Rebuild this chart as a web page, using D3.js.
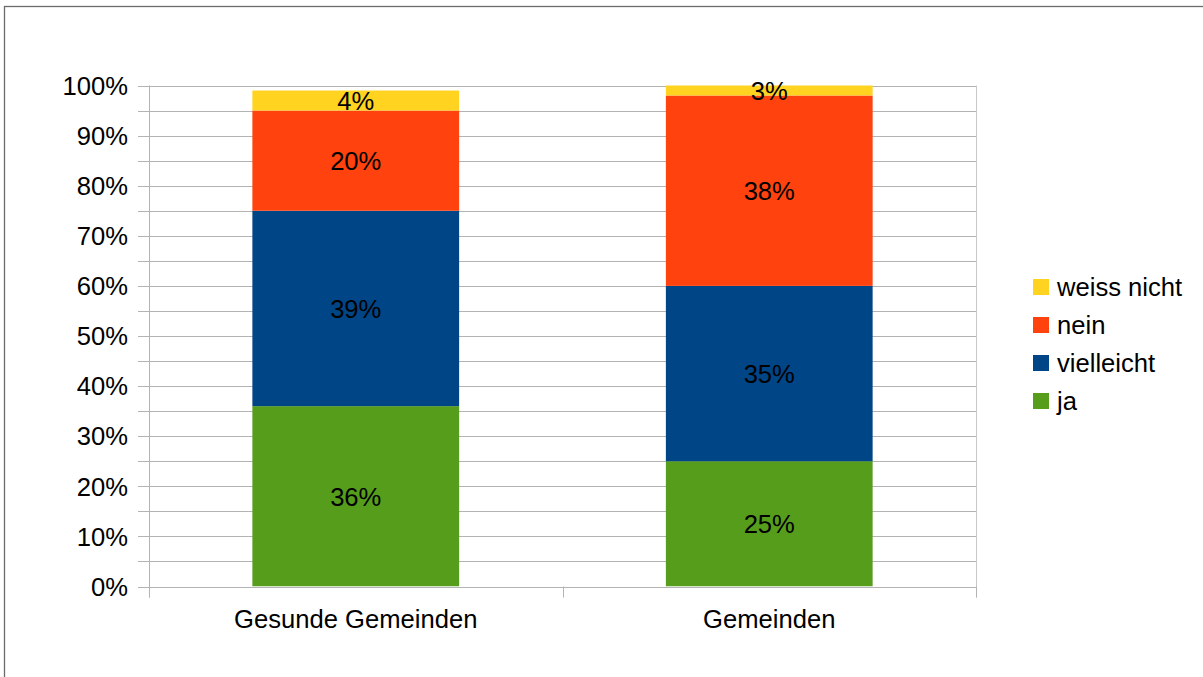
<!DOCTYPE html>
<html>
<head>
<meta charset="utf-8">
<script src="https://cdn.jsdelivr.net/npm/d3@7/dist/d3.min.js"></script>
<style>
  html, body { margin: 0; padding: 0; background: #fff; }
  svg { display: block; font-family: "Liberation Sans", Arial, sans-serif; }
</style>
</head>
<body>
<svg id="chart" width="1203" height="677"></svg>
<script>
// Survey answers per group (share of respondents)
const categories = ["Gesunde Gemeinden", "Gemeinden"];
const seriesNames = ["ja", "vielleicht", "nein", "weiss nicht"];
const ja = [0.36, 0.25];
const vielleicht = [0.39, 0.35];
const nein = [0.20, 0.38];
const weissNicht = [0.04, 0.03];
const seriesColors = ["#579d1c", "#004586", "#ff420e", "#ffd320"];
const yTicks = [0, 0.1, 0.2, 0.3, 0.4, 0.5, 0.6, 0.7, 0.8, 0.9, 1.0];
const yGrid = d3.range(0, 1.0001, 0.05);

(function () {
  const svg = d3.select("#chart");
  const plotLeft = 149, plotRight = 976, plotTop = 85.5, plotBottom = 586.5;
  const fontSize = 25.6;

  // outer frame
  svg.append("rect")
    .attr("x", 4.5).attr("y", 6.5)
    .attr("width", 1210).attr("height", 700)
    .attr("fill", "none").attr("stroke", "#6b6b6b").attr("stroke-width", 1.3);

  const x = d3.scaleBand().domain(categories).range([plotLeft, plotRight])
    .paddingInner(0.5).paddingOuter(0.25);
  const y = d3.scaleLinear().domain([0, 1]).range([plotBottom, plotTop]);

  // gridlines
  svg.append("g").selectAll("line").data(yGrid).join("line")
    .attr("x1", plotLeft - 11).attr("x2", plotRight)
    .attr("y1", d => Math.round(y(d)) + 0.5).attr("y2", d => Math.round(y(d)) + 0.5)
    .attr("stroke", "#b3b3b3").attr("stroke-width", 1);

  // right plot edge
  svg.append("line")
    .attr("x1", plotRight + 0.5).attr("x2", plotRight + 0.5)
    .attr("y1", plotTop).attr("y2", plotBottom + 11)
    .attr("stroke", "#c8c8c8").attr("stroke-width", 1);

  // y-axis line
  svg.append("line")
    .attr("x1", plotLeft + 0.5).attr("x2", plotLeft + 0.5)
    .attr("y1", plotTop).attr("y2", plotBottom + 11)
    .attr("stroke", "#b3b3b3").attr("stroke-width", 1);

  // category boundary ticks
  const step = x.step();
  const bounds = [plotLeft, plotLeft + step, plotRight];
  svg.append("g").selectAll("line").data(bounds).join("line")
    .attr("x1", d => Math.round(d) + 0.5).attr("x2", d => Math.round(d) + 0.5)
    .attr("y1", plotBottom).attr("y2", plotBottom + 11)
    .attr("stroke", "#b3b3b3").attr("stroke-width", 1);

  // y tick labels
  svg.append("g").selectAll("text").data(yTicks).join("text")
    .attr("x", 128).attr("y", d => y(d))
    .attr("dy", "0.36em")
    .attr("text-anchor", "end")
    .attr("font-size", fontSize).attr("fill", "#000")
    .text(d => d3.format(".0%")(d));

  // category labels
  svg.append("g").selectAll("text").data(categories).join("text")
    .attr("x", d => x(d) + x.bandwidth() / 2).attr("y", 628)
    .attr("text-anchor", "middle")
    .attr("font-size", fontSize).attr("fill", "#000")
    .text(d => d);

  // stacked data
  const rows = categories.map((c, i) => ({
    cat: c, "ja": ja[i], "vielleicht": vielleicht[i], "nein": nein[i], "weiss nicht": weissNicht[i]
  }));
  const stacked = d3.stack().keys(seriesNames)(rows);

  svg.append("clipPath").attr("id", "plotClip")
    .append("rect").attr("x", plotLeft).attr("y", plotTop)
    .attr("width", plotRight - plotLeft).attr("height", plotBottom - plotTop);

  const plot = svg.append("g").attr("clip-path", "url(#plotClip)");
  stacked.forEach((layer, li) => {
    plot.append("g").selectAll("rect").data(layer).join("rect")
      .attr("x", d => x(d.data.cat))
      .attr("width", x.bandwidth())
      .attr("y", d => y(d[1]))
      .attr("height", d => y(d[0]) - y(d[1]))
      .attr("fill", seriesColors[li]);
  });

  // value labels centred on the visible part of each segment
  stacked.forEach((layer) => {
    svg.append("g").selectAll("text").data(layer).join("text")
      .attr("x", d => x(d.data.cat) + x.bandwidth() / 2)
      .attr("y", d => (y(Math.min(d[1], 1)) + y(d[0])) / 2)
      .attr("dy", "0.36em")
      .attr("text-anchor", "middle")
      .attr("font-size", fontSize).attr("fill", "#000")
      .text(d => d3.format(".0%")(d[1] - d[0]));
  });

  // legend
  const legendOrder = seriesNames.map((n, i) => ({ name: n, color: seriesColors[i] })).reverse();
  const lg = svg.append("g").selectAll("g").data(legendOrder).join("g")
    .attr("transform", (d, i) => `translate(1033, ${279 + i * 38})`);
  lg.append("rect").attr("width", 16).attr("height", 16).attr("fill", d => d.color);
  lg.append("text").attr("x", 24).attr("y", 8).attr("dy", "0.36em")
    .attr("font-size", fontSize).attr("fill", "#000").text(d => d.name);
})();
</script>
</body>
</html>
